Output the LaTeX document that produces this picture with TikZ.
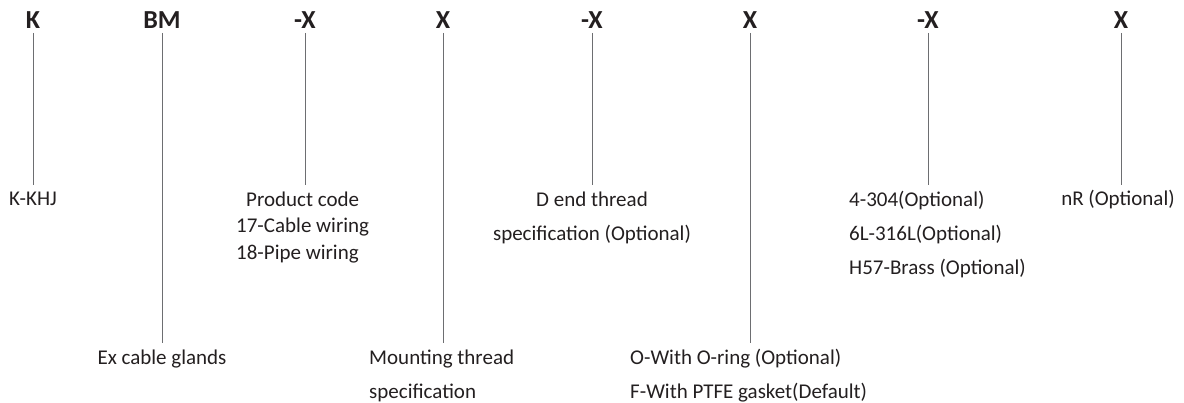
\documentclass[tikz,border=0pt]{standalone}
\usepackage{fontspec}
\setmainfont{Carlito}
\definecolor{ink}{HTML}{231F20}
\definecolor{leadgray}{HTML}{6D6E71}
\tikzset{
  head/.style={anchor=base,inner sep=4.5pt,text=ink,font=\fontsize{26}{30}\selectfont\bfseries},
  desc/.style={inner sep=0pt,text=ink,font=\fontsize{21}{34}\selectfont},
  lead/.style={draw=leadgray,line width=1pt}
}
\begin{document}
\begin{tikzpicture}[x=1pt,y=-1pt]
\useasboundingbox (0,0) rectangle (1184,403);
% code letters and their leader lines
\foreach \x/\t/\n/\e in {33/K/a/185,162/BM/b/343,305/-X/c/185,443/X/d/343,
  592/-X/e/185,750/X/f/343,928/-X/g/185,1121/X/h/185}{
\node[head] (h\n) at (\x,28.3) {\t};
\coordinate (e\n) at (\x,\e);
\draw[lead] (h\n.south) -- (e\n);
}

% upper row of descriptions (base = last line)
\node[desc,anchor=base] (da) at (33,206) {K-KHJ};
\node[desc,anchor=base west,align=left,font=\fontsize{21}{26.5}\selectfont] (dc) at (236,259.5)
  {\hspace*{10pt}Product code\\17-Cable wiring\\18-Pipe wiring};
\node[desc,anchor=base,align=center] (de) at (592,240.5)
  {D end thread\\specification (Optional)};
\node[desc,anchor=base west,align=left] (dg) at (849,274.5)
  {4-304(Optional)\\6L-316L(Optional)\\H57-Brass (Optional)};
\node[desc,anchor=base] (dh) at (1118,206) {nR (Optional)};

% lower row of descriptions
\node[desc,anchor=base] (db) at (162,365) {Ex cable glands};
\node[desc,anchor=base west,align=left] (dd) at (369,399)
  {Mounting thread\\specification};
\node[desc,anchor=base west,align=left] (df) at (630,399)
  {O-With O-ring (Optional)\\F-With PTFE gasket(Default)};
\end{tikzpicture}
\end{document}
